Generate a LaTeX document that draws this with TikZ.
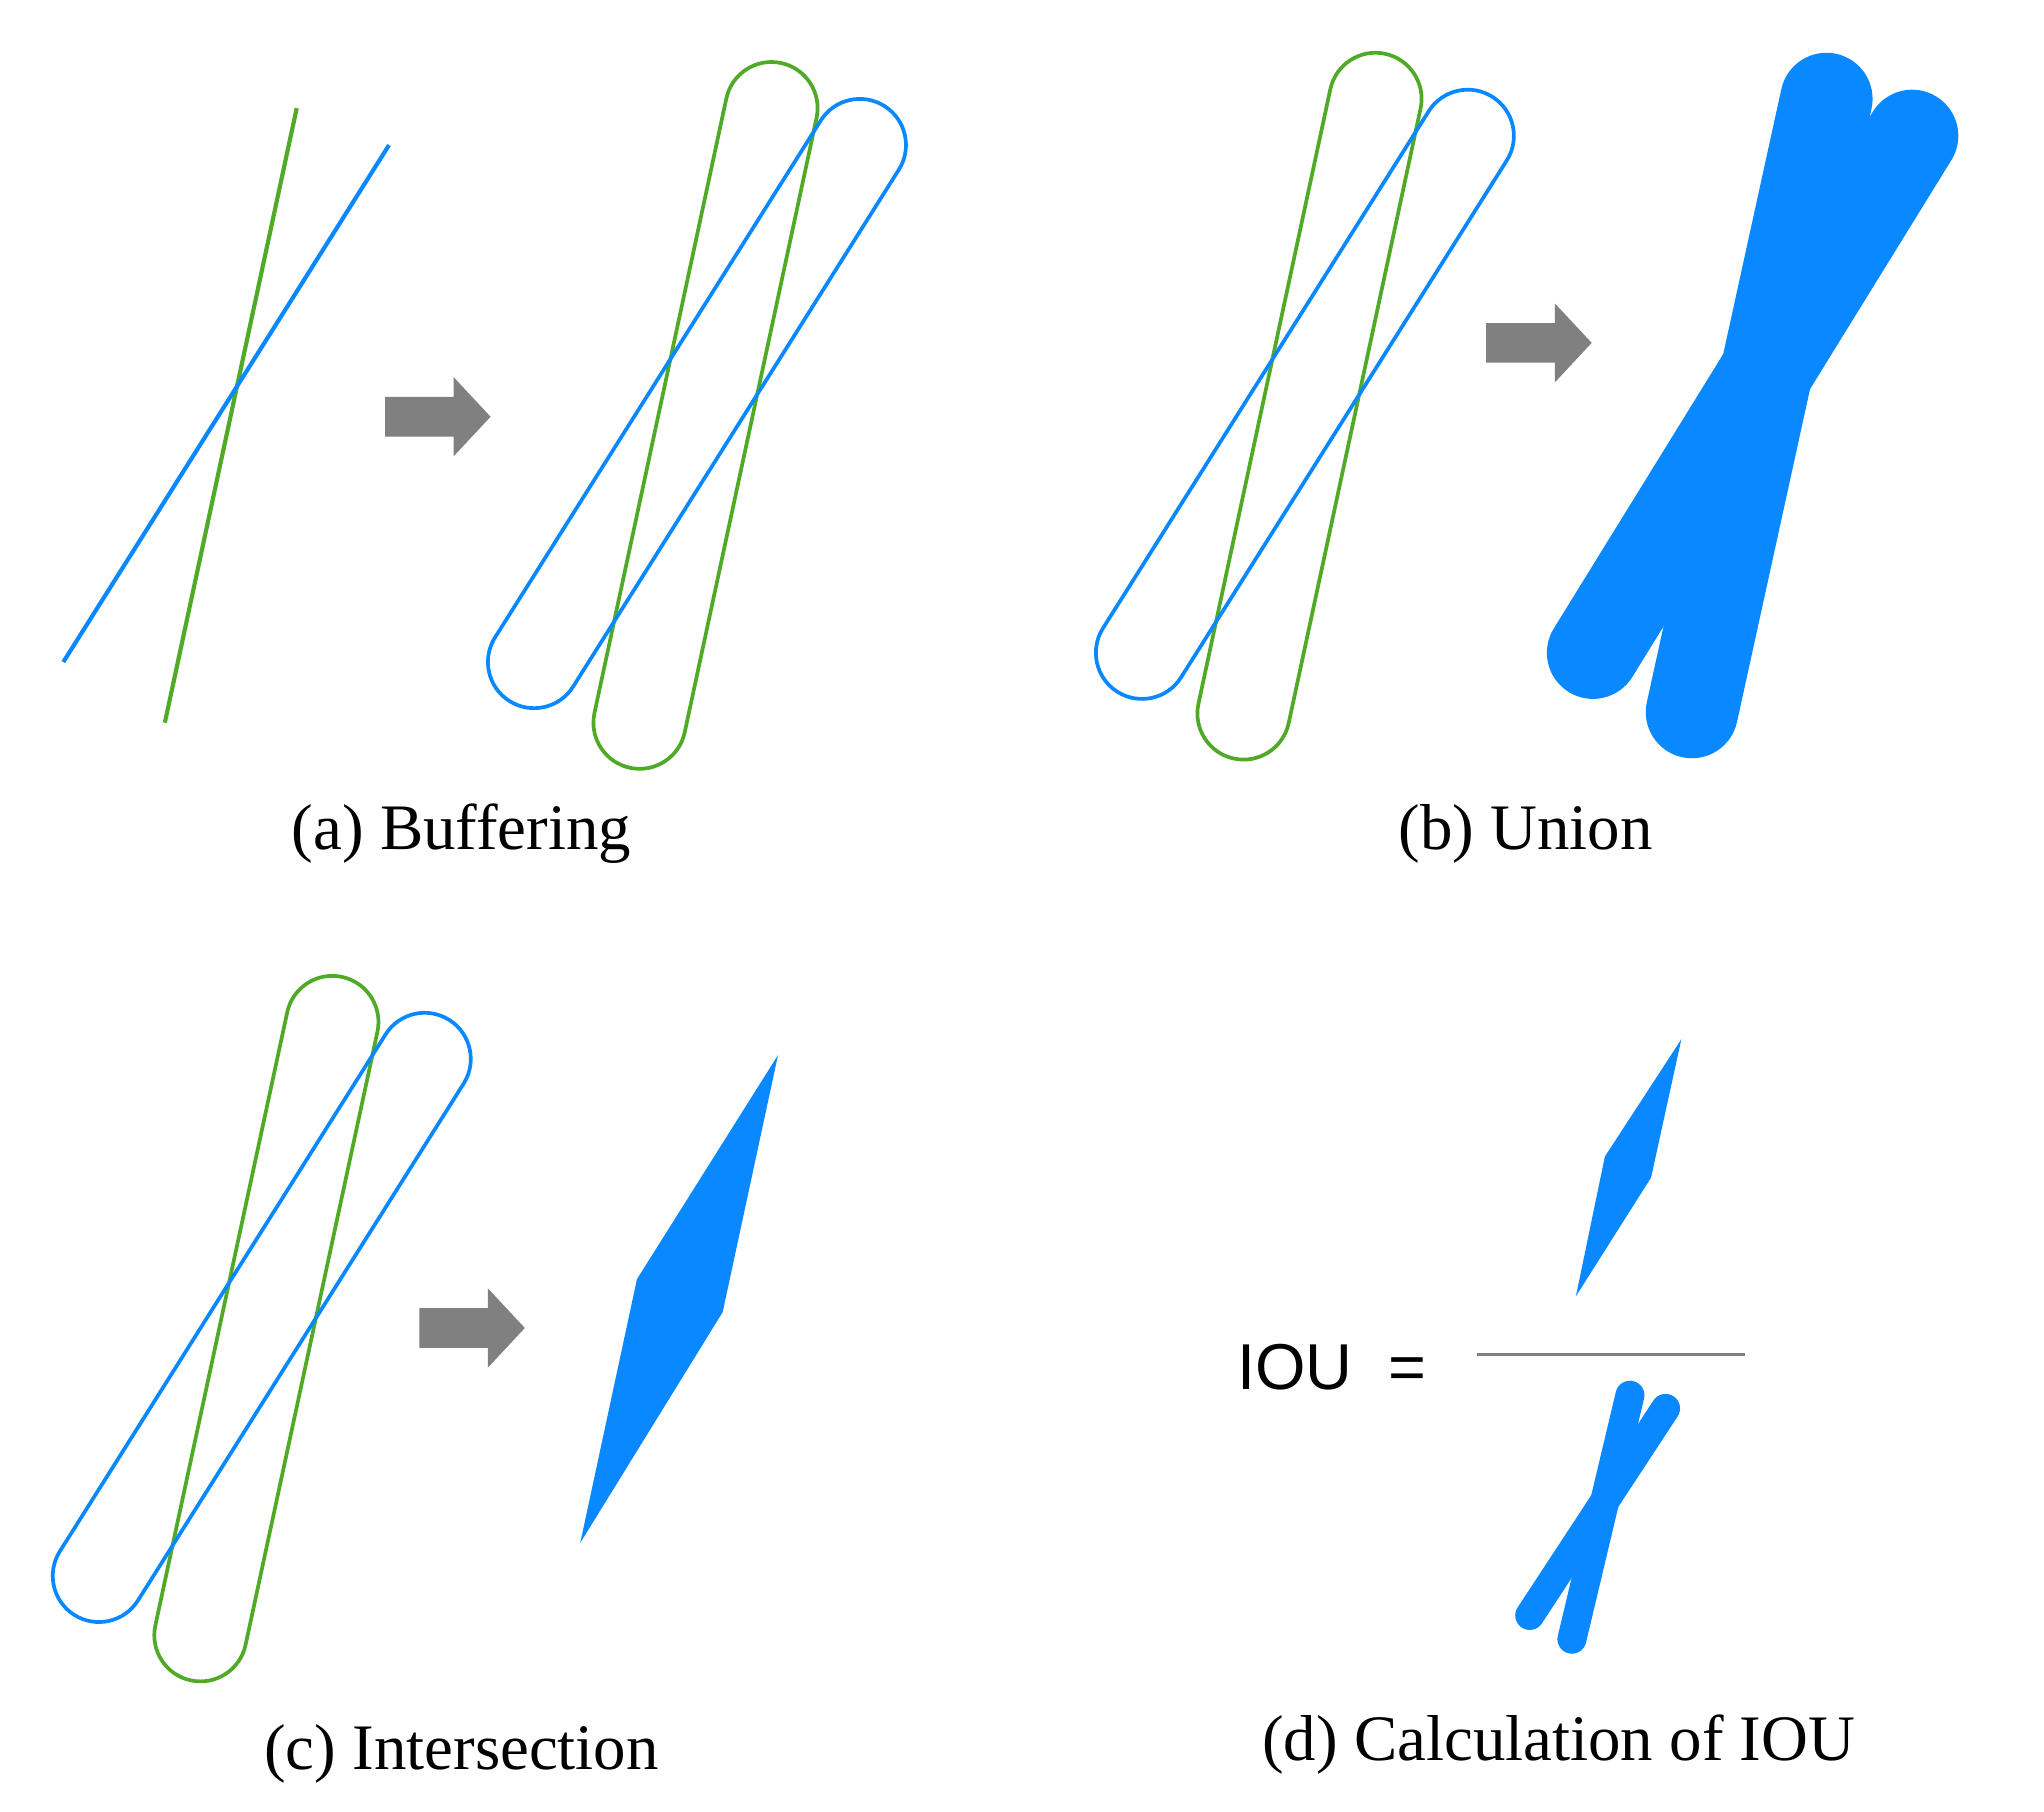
\documentclass[tikz,border=0pt]{standalone}
\usepackage{fontspec}
\setmainfont{Liberation Serif}
\newfontfamily\sansf{Liberation Sans}
\usetikzlibrary{calc}
\definecolor{bl}{RGB}{10,136,255}
\definecolor{gr}{RGB}{80,170,40}
\definecolor{ga}{RGB}{128,128,128}
\newcommand{\capsule}[4]{%
  \draw[#4,line width=1.6pt] let \p1=(#1),\p2=(#2),\n1={atan2(\y2-\y1,\x2-\x1)} in
   ($(#1)+(\n1+90:#3)$) -- ($(#2)+(\n1+90:#3)$) arc[start angle=\n1+90,end angle=\n1-90,radius=#3]
   -- ($(#1)+(\n1-90:#3)$) arc[start angle=\n1-90,end angle=\n1-270,radius=#3] -- cycle;}
\newcommand{\garrow}[1]{%
  \fill[ga] ($(#1)+(-40,-15)$) -- ($(#1)+(12,-15)$) -- ($(#1)+(12,-30)$) -- ($(#1)+(40,0)$)
   -- ($(#1)+(12,30)$) -- ($(#1)+(12,15)$) -- ($(#1)+(-40,15)$) -- cycle;}
\tikzset{lab/.style={font=\fontsize{28}{34}\selectfont},
thk/.style={line width=#1,line cap=round}}
\begin{document}
\begin{tikzpicture}[x=0.02cm,y=-0.02cm]
\useasboundingbox (0,0) rectangle (1550,1374);
% (a)
\coordinate (ga1) at (225,82); \coordinate (ga2) at (125,548);
\coordinate (ba1) at (295,110); \coordinate (ba2) at (48,502);
\draw[gr,line width=1.8pt] (ga1) -- (ga2);
\draw[bl,line width=1.8pt] (ba1) -- (ba2);
\coordinate (arA) at (332,316); \garrow{arA}
\coordinate (gb1) at (585,82); \coordinate (gb2) at (485,548);
\coordinate (bb1) at (652,110); \coordinate (bb2) at (405,502);
\capsule{gb1}{gb2}{0.7cm}{gr}
\capsule{bb1}{bb2}{0.7cm}{bl}
\node[lab] (la) at (350,632) {(a) Buffering};
% (b)
\coordinate (gc1) at (1043,75); \coordinate (gc2) at (943,541);
\coordinate (bc1) at (1113,103); \coordinate (bc2) at (866,495);
\capsule{gc1}{gc2}{0.7cm}{gr}
\capsule{bc1}{bc2}{0.7cm}{bl}
\coordinate (arB) at (1167,260); \garrow{arB}
\coordinate (gu1) at (1385,75); \coordinate (gu2) at (1283,540);
\coordinate (bu1) at (1450,103); \coordinate (bu2) at (1208,495);
\draw[bl,thk=1.4cm] (gu1) -- (gu2);
\draw[bl,thk=1.4cm] (bu1) -- (bu2);
\node[lab] (lb) at (1157,632) {(b) Union};
% (c)
\coordinate (gd1) at (252,775); \coordinate (gd2) at (152,1240);
\coordinate (bd1) at (322,803); \coordinate (bd2) at (75,1195);
\capsule{gd1}{gd2}{0.7cm}{gr}
\capsule{bd1}{bd2}{0.7cm}{bl}
\coordinate (arC) at (358,1007); \garrow{arC}
\fill[bl] (590,800) -- (548,995) -- (440,1170) -- (483,970) -- cycle;
\node[lab] (lc) at (350,1330) {(c) Intersection};
% (d)
\fill[bl] (1275,788) -- (1252,893) -- (1195,983) -- (1217,877) -- cycle;
\coordinate (f1) at (1120,1027); \coordinate (f2) at (1323,1027);
\draw[ga,line width=1.2pt] (f1) -- (f2);
\node[font=\sansf\fontsize{28}{34}\selectfont] (iou) at (1010,1037) {IOU\ \ =};
\coordinate (gs1) at (1236,1058); \coordinate (gs2) at (1192,1243);
\coordinate (bs1) at (1263,1068); \coordinate (bs2) at (1160,1225);
\draw[bl,thk=0.44cm] (gs1) -- (gs2);
\draw[bl,thk=0.44cm] (bs1) -- (bs2);
\node[lab] (ld) at (1182,1323) {(d) Calculation of IOU};
\end{tikzpicture}
\end{document}
